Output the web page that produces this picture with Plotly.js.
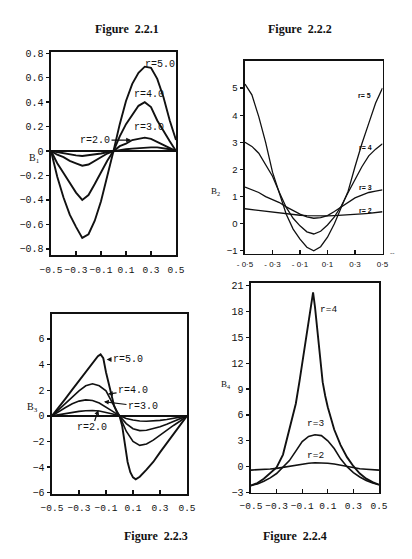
<!DOCTYPE html>
<html>
<head>
<meta charset="utf-8">
<script src="https://cdn.plot.ly/plotly-3.0.1.min.js"></script>
<style>html,body{margin:0;padding:0;background:#fff;}#chart{width:412px;height:559px;}</style>
</head>
<body>
<div id="chart"></div>
<script>
// ---------- data ----------
const xGrid = [-0.5,-0.45,-0.4,-0.35,-0.3,-0.25,-0.2,-0.15,-0.1,-0.05,0,0.05,0.1,0.15,0.2,0.25,0.3,0.35,0.4,0.45,0.5];

// Figure 2.2.1 (B1)
const b1_r2 = [0,-0.01,-0.02,-0.03,-0.035,-0.04,-0.035,-0.03,-0.02,-0.01,0,0.01,0.015,0.02,0.025,0.03,0.03,0.03,0.025,0.015,0];
const b1_r3 = [0,-0.03,-0.05,-0.08,-0.1,-0.12,-0.11,-0.08,-0.05,-0.02,0,0.04,0.06,0.09,0.1,0.11,0.1,0.075,0.05,0.03,0];
const b1_r4 = [0,-0.1,-0.18,-0.26,-0.34,-0.4,-0.36,-0.27,-0.17,-0.08,0,0.12,0.22,0.3,0.37,0.4,0.36,0.25,0.16,0.08,0];
const b1_r5 = [0,-0.21,-0.38,-0.52,-0.62,-0.71,-0.68,-0.57,-0.41,-0.21,0,0.22,0.41,0.55,0.64,0.69,0.68,0.59,0.44,0.25,0.09];
const b1Labels = ["r=2.0","r=3.0","r=4.0","r=5.0"];

// Figure 2.2.2 (B2)
const b2_r2 = [0.55,0.52,0.48,0.45,0.42,0.39,0.36,0.33,0.31,0.3,0.29,0.29,0.29,0.3,0.31,0.32,0.34,0.36,0.38,0.41,0.44];
const b2_r3 = [1.35,1.25,1.15,1.0,0.9,0.78,0.62,0.48,0.35,0.25,0.2,0.22,0.3,0.45,0.62,0.8,0.95,1.05,1.15,1.2,1.25];
const b2_r4 = [3.0,2.85,2.6,2.2,1.75,1.15,0.6,0.2,-0.08,-0.3,-0.38,-0.28,-0.05,0.25,0.65,1.15,1.65,2.1,2.5,2.75,2.95];
const b2_r5 = [5.15,4.75,3.95,3.0,1.9,1.1,0.35,-0.2,-0.57,-0.87,-1.0,-0.85,-0.5,0.0,0.6,1.2,2.1,2.95,3.7,4.45,5.0];
const b2Labels = ["r= 2","r= 3","r= 4","r= 5"];

// Figure 2.2.3 (B3)
const b3_r2 = [0,0.1,0.2,0.28,0.35,0.4,0.42,0.38,0.28,0.15,0,-0.2,-0.32,-0.4,-0.42,-0.4,-0.35,-0.28,-0.2,-0.1,0];
const b3_r3 = [0,0.35,0.65,0.95,1.15,1.25,1.2,1.0,0.7,0.35,0,-0.6,-1.0,-1.15,-1.12,-1.0,-0.85,-0.65,-0.45,-0.25,0];
const b3_r4 = [0,0.5,1.0,1.5,1.95,2.35,2.5,2.35,1.95,0.95,0,-1.2,-2.0,-2.3,-2.2,-1.9,-1.5,-1.1,-0.75,-0.4,0];
const x3_r5 = [-0.5,-0.45,-0.4,-0.35,-0.3,-0.25,-0.2,-0.16,-0.14,-0.12,-0.1,-0.08,-0.06,-0.04,-0.02,0,0.02,0.04,0.06,0.08,0.1,0.12,0.15,0.2,0.25,0.3,0.35,0.4,0.45,0.5];
const b3_r5 = [0,0.65,1.35,2.05,2.75,3.45,4.15,4.65,4.8,4.5,3.4,2.5,1.6,0.8,0.3,0,-0.8,-2.3,-3.6,-4.4,-4.8,-4.95,-4.75,-4.2,-3.6,-2.85,-2.15,-1.45,-0.75,0];
const b3Labels = ["r=2.0","r=3.0","r=4.0","r=5.0"];

// Figure 2.2.4 (B4)
const b4_r2 = [-0.4,-0.38,-0.35,-0.28,-0.2,-0.08,0.05,0.18,0.3,0.4,0.45,0.44,0.4,0.3,0.15,0.0,-0.15,-0.24,-0.3,-0.36,-0.4];
const b4_r3 = [-2.2,-2.0,-1.7,-1.3,-0.8,-0.1,0.7,1.8,2.9,3.5,3.7,3.6,3.0,2.1,0.9,0.0,-0.7,-1.2,-1.6,-1.9,-2.1];
const x4_r4 = [-0.5,-0.45,-0.4,-0.35,-0.3,-0.25,-0.2,-0.15,-0.12,-0.09,-0.06,-0.04,-0.015,0,0.02,0.04,0.06,0.08,0.1,0.15,0.2,0.25,0.3,0.35,0.4,0.45,0.5];
const b4_r4 = [-2.2,-1.9,-1.4,-0.8,-0.1,1.4,4.2,7.3,10.0,13.0,16.0,18.0,20.2,18.5,15.5,12.3,9.8,8.2,6.9,4.3,2.5,1.1,0.05,-0.8,-1.4,-1.8,-2.1];
const b4Labels = ["r=2","r=3","r=4"];

// ticks
const xTickVals = [-0.5,-0.3,-0.1,0.1,0.3,0.5];
const xTickText = ["−0.5","−0.3","−0.1","0.1","0.3","0.5"];
const xTickText2 = ["- 0·5","- 0·3","- 0·1","0·1","0·3","0·5"];
const y1TickVals = [0.8,0.6,0.4,0.2,0,-0.2,-0.4,-0.6,-0.8];
const y1TickText = ["0.8","0.6","0.4","0.2","0","−0.2","−0.4","−0.6","−0.8"];
const y2TickVals = [5,4,3,2,1,0,-1];
const y2TickText = ["5","4","3","2","1","0","−1"];
const y3TickVals = [6,4,2,0,-2,-4,-6];
const y3TickText = ["6","4","2","0","−2","−4","−6"];
const y4TickVals = [21,18,15,12,9,6,3,0,-3];
const y4TickText = ["21","18","15","12","9","6","3","0","−3"];
const figTitles = ["Figure  2.2.1","Figure  2.2.2","Figure  2.2.3","Figure  2.2.4"];
const yTitles = ["B<sub>1</sub>","B<sub>2</sub>","B<sub>3</sub>","B<sub>4</sub>"];

// ---------- layout helpers ----------
const W = 412, H = 559;
const dx = (a,b) => [a/W, b/W];
const dy = (top,bottom) => [1-bottom/H, 1-top/H];
const MONO = "Liberation Mono, DejaVu Sans Mono, monospace";
const SANS = "Liberation Sans, Arial, sans-serif";
const SERIF = "Liberation Serif, Times New Roman, serif";

function line(x, y, xa, ya, w){
  return {x:x, y:y, xaxis:xa, yaxis:ya, type:'scatter', mode:'lines',
          line:{color:'#111', width:w||1.9}, hoverinfo:'skip', showlegend:false};
}

const traces = [
  line(xGrid,b1_r2,'x','y'), line(xGrid,b1_r3,'x','y'), line(xGrid,b1_r4,'x','y'), line(xGrid,b1_r5,'x','y'),
  line(xGrid,b2_r2,'x2','y2',1.3), line(xGrid,b2_r3,'x2','y2',1.3), line(xGrid,b2_r4,'x2','y2',1.3), line(xGrid,b2_r5,'x2','y2',1.3),
  line(xGrid,b3_r2,'x3','y3',1.6), line(xGrid,b3_r3,'x3','y3',1.6), line(xGrid,b3_r4,'x3','y3',1.6), line(x3_r5,b3_r5,'x3','y3',1.9),
  line(xGrid,b4_r2,'x4','y4',1.6), line(xGrid,b4_r3,'x4','y4',1.6), line(x4_r4,b4_r4,'x4','y4',1.9)
];

function xax(dom, anchor, ttext, font, standoff){
  return {domain:dom, anchor:anchor, range:[-0.5,0.5], tickmode:'array', tickvals:xTickVals, ticktext:ttext, tickangle:0,
          ticks:'inside', ticklen:4, tickwidth:1.3, tickcolor:'#111', showline:true, mirror:true, linecolor:'#111', linewidth:1.6,
          showgrid:false, zeroline:false, tickfont:font, ticklabelstandoff:standoff, fixedrange:true};
}
function yax(dom, anchor, range, vals, text, font, zl){
  return {domain:dom, anchor:anchor, range:range, tickmode:'array', tickvals:vals, ticktext:text, tickangle:0,
          ticks:'outside', ticklen:3, tickwidth:1.3, tickcolor:'#111', showline:true, mirror:true, linecolor:'#111', linewidth:1.6,
          showgrid:false, zeroline:zl, zerolinecolor:'#111', zerolinewidth:1.6, tickfont:font, ticklabelstandoff:1, fixedrange:true};
}

const monoFont = {family:MONO, size:10, color:'#111'};
const monoTick = {family:MONO, size:9.5, color:'#111'};
const smallSans = {family:SANS, size:8, color:'#111'};
const sansFont = {family:SANS, size:9.5, color:'#111'};

function ann(text, x, y, xr, yr, font, extra){
  return Object.assign({text:text, x:x, y:y, xref:xr, yref:yr, showarrow:false, font:font}, extra||{});
}
function arrowAnn(text, x, y, xr, yr, ax, ay){
  return {text:text, x:x, y:y, xref:xr, yref:yr, showarrow:true, ax:ax, ay:ay,
          arrowhead:2, arrowsize:0.8, arrowwidth:1.2, arrowcolor:'#111', standoff:0, font:monoFont};
}
const px = (v)=>v/W, py = (v)=>1-v/H;
const titleFont = {family:SERIF, size:12, color:'#111'};
const axTitleFont = {family:SERIF, size:10, color:'#111'};

const annotations = [
  // figure titles
  ann('<b>'+figTitles[0]+'</b>', px(93), py(20), 'paper','paper', titleFont),
  ann('<b>'+figTitles[1]+'</b>', px(334), py(20), 'paper','paper', titleFont),
  ann('<b>'+figTitles[2]+'</b>', px(122), py(545), 'paper','paper', titleFont),
  ann('<b>'+figTitles[3]+'</b>', px(329), py(545), 'paper','paper', titleFont),
  // y titles
  ann(yTitles[0], px(27), py(150), 'paper','paper', axTitleFont),
  ann(yTitles[1], px(215), py(184), 'paper','paper', {family:SERIF, size:9, color:'#111'}),
  ann(yTitles[2], px(25), py(416), 'paper','paper', axTitleFont),
  ann(yTitles[3], px(226), py(392), 'paper','paper', {family:SERIF, size:9, color:'#111'}),
  // panel 1 labels
  ann(b1Labels[3], 0.372, 0.71, 'x','y', monoFont),
  ann(b1Labels[2], 0.284, 0.46, 'x','y', monoFont),
  ann(b1Labels[1], 0.284, 0.19, 'x','y', monoFont),
  arrowAnn(b1Labels[0], 0.14, 0.09, 'x','y', -36, 0),
  // panel 2 labels
  ann('<b>'+b2Labels[3]+'</b>', 0.37, 4.74, 'x2','y2', {family:SANS, size:7, color:'#111'}),
  ann('<b>'+b2Labels[2]+'</b>', 0.376, 2.8, 'x2','y2', {family:SANS, size:7, color:'#111'}),
  ann('<b>'+b2Labels[1]+'</b>', 0.376, 1.33, 'x2','y2', {family:SANS, size:7, color:'#111'}),
  ann('<b>'+b2Labels[0]+'</b>', 0.376, 0.49, 'x2','y2', {family:SANS, size:7, color:'#111'}),
  ann('--', px(397), py(252), 'paper','paper', {family:SANS, size:7, color:'#555'}),
  // panel 3 labels
  arrowAnn(b3Labels[3], -0.095, 4.4, 'x3','y3', 21, 0),
  arrowAnn(b3Labels[2], -0.085, 1.71, 'x3','y3', 25, -3),
  arrowAnn(b3Labels[1], -0.115, 1.11, 'x3','y3', 39, 5),
  arrowAnn(b3Labels[0], -0.157, 0.46, 'x3','y3', -6, 18),
  // panel 4 labels
  ann(b4Labels[2], 0.108, 18.2, 'x4','y4', {family:MONO, size:9.5, color:'#111'}),
  ann(b4Labels[1], 0.0, 5.0, 'x4','y4', {family:MONO, size:9.5, color:'#111'}),
  ann(b4Labels[0], 0.0, 1.35, 'x4','y4', {family:MONO, size:9.5, color:'#111'})
];

const layout = {
  width:W, height:H, margin:{l:0,r:0,t:0,b:0}, paper_bgcolor:'#fff', plot_bgcolor:'rgba(0,0,0,0)',
  showlegend:false,
  xaxis: xax(dx(51,176),'y', xTickText, monoTick, 5),
  yaxis: yax(dy(52,255),'x', [-0.85,0.81], y1TickVals, y1TickText, monoFont, true),
  xaxis2: xax(dx(245,382.5),'y2', xTickText2, smallSans, 2),
  yaxis2: yax(dy(61,253.5),'x2', [-1.1,6], y2TickVals, y2TickText, sansFont, false),
  xaxis3: xax(dx(52,187),'y3', xTickText, monoTick, 4),
  yaxis3: yax(dy(314,494),'x3', [-6.1,7.95], y3TickVals, y3TickText, monoFont, true),
  xaxis4: xax(dx(251,379),'y4', xTickText, monoTick, 3),
  yaxis4: yax(dy(283,492.5),'x4', [-3,21.3], y4TickVals, y4TickText, monoFont, false),
  annotations: annotations
};

Plotly.newPlot('chart', traces, layout, {staticPlot:true, displayModeBar:false});
</script>
</body>
</html>
